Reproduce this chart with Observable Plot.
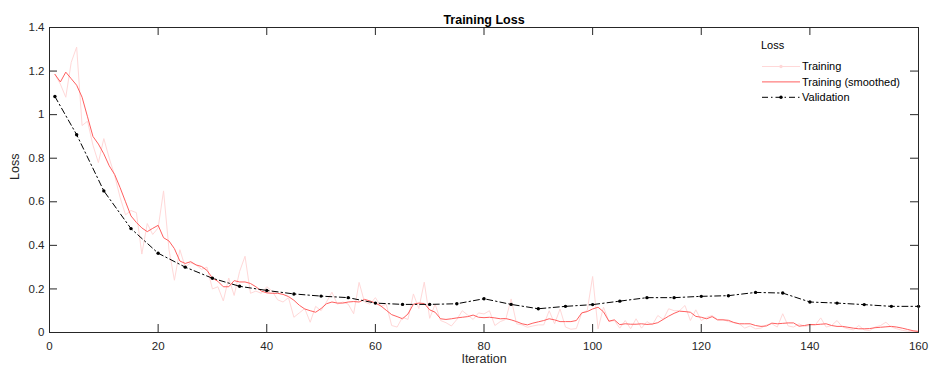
<!DOCTYPE html>
<html><head><meta charset="utf-8">
<script src="https://cdn.jsdelivr.net/npm/d3@7"></script>
<script src="https://cdn.jsdelivr.net/npm/@observablehq/plot@0.6"></script>
<style>
body{margin:0;background:#fff;font-family:"Liberation Sans",Arial,Helvetica,sans-serif}
#chart{position:relative;width:937px;height:369px}
</style>
</head><body><div id="chart"></div>
<script>
// ---- data ----
const trainingRaw = [
1.185,1.14,1.08,1.24,1.31,0.95,0.97,0.86,0.78,0.89,
0.80,0.72,0.62,0.54,0.56,0.55,0.36,0.50,0.45,0.48,
0.65,0.38,0.24,0.38,0.30,0.32,0.31,0.29,0.30,0.20,
0.21,0.145,0.25,0.17,0.28,0.35,0.18,0.19,0.18,0.21,
0.19,0.15,0.14,0.16,0.07,0.09,0.11,0.047,0.12,0.10,
0.14,0.185,0.13,0.14,0.13,0.086,0.23,0.14,0.13,0.16,
0.12,0.13,0.032,0.025,0.07,0.06,0.177,0.11,0.231,0.065,
0.13,0.055,0.045,0.03,0.06,0.10,0.08,0.06,0.09,0.085,
0.10,0.032,0.05,0.06,0.154,0.04,0.035,0.024,0.03,0.035,
0.035,0.10,0.04,0.108,0.025,0.015,0.018,0.09,0.10,0.257,
0.017,0.116,0.05,0.055,0.02,0.055,0.017,0.063,0.02,0.05,
0.035,0.078,0.06,0.109,0.10,0.10,0.124,0.055,0.104,0.055,
0.07,0.078,0.06,0.06,0.05,0.045,0.04,0.02,0.03,0.017,
0.02,0.035,0.04,0.025,0.086,0.03,0.025,0.04,0.028,0.032,
0.035,0.067,0.025,0.032,0.055,0.025,0.017,0.012,0.032,0.012,
0.009,0.025,0.032,0.047,0.025,0.017,0.01,0.006,0.005,0.005];

const trainingSmoothed = [
1.185,1.15,1.195,1.165,1.135,1.08,0.99,0.90,0.865,0.82,
0.765,0.725,0.665,0.60,0.535,0.505,0.48,0.463,0.478,0.492,
0.435,0.42,0.385,0.328,0.317,0.325,0.31,0.303,0.285,0.25,
0.235,0.21,0.21,0.238,0.232,0.232,0.225,0.21,0.19,0.182,
0.18,0.18,0.175,0.165,0.148,0.125,0.108,0.10,0.093,0.11,
0.132,0.14,0.135,0.135,0.14,0.142,0.14,0.152,0.145,0.135,
0.122,0.102,0.082,0.073,0.063,0.085,0.13,0.135,0.133,0.104,
0.093,0.063,0.06,0.063,0.067,0.07,0.073,0.08,0.07,0.068,
0.07,0.067,0.063,0.064,0.058,0.05,0.04,0.035,0.043,0.049,
0.055,0.063,0.058,0.05,0.05,0.05,0.055,0.09,0.096,0.108,
0.116,0.095,0.052,0.058,0.036,0.04,0.038,0.038,0.04,0.037,
0.039,0.045,0.06,0.075,0.088,0.098,0.096,0.093,0.074,0.07,
0.063,0.073,0.058,0.058,0.056,0.046,0.04,0.04,0.04,0.032,
0.028,0.03,0.043,0.04,0.042,0.044,0.044,0.029,0.032,0.037,
0.036,0.038,0.04,0.032,0.028,0.028,0.024,0.02,0.017,0.017,
0.018,0.022,0.024,0.026,0.028,0.025,0.02,0.014,0.008,0.005];

const validationIter = [1,5,10,15,20,25,30,35,40,45,50,55,60,65,70,75,80,85,90,95,100,105,110,115,120,125,130,135,140,145,150,155,160];
const validationLoss = [1.083,0.908,0.65,0.477,0.364,0.30,0.249,0.212,0.193,0.177,0.167,0.16,0.135,0.129,0.129,0.132,0.155,0.129,0.109,0.12,0.128,0.144,0.16,0.16,0.166,0.169,0.184,0.181,0.14,0.135,0.128,0.12,0.12];

const xTicks = [0,20,40,60,80,100,120,140,160];
const yTicks = [0,0.2,0.4,0.6,0.8,1,1.2,1.4];
const legendLabels = ["Training","Training (smoothed)","Validation"];

// ---- tables ----
const training = trainingRaw.map((v,i)=>({it:i+1, raw:v, smooth:trainingSmoothed[i]}));
const validation = validationIter.map((it,i)=>({it, loss:validationLoss[i]}));

const W=937,H=369,ML=49,MR=19,MT=27,MB=37;
const PW=W-ML-MR, PH=H-MT-MB, TK=8;
const axisColor="#262626";
const cRaw="#ffd8d8", cSmooth="#ff5f5f";

const chart = Plot.plot({
  width:W, height:H,
  marginLeft:ML, marginRight:MR, marginTop:MT, marginBottom:MB,
  style:{fontFamily:'"Liberation Sans",Arial,Helvetica,sans-serif', background:"#fff", overflow:"visible"},
  x:{domain:[0,160]},
  y:{domain:[0,1.4]},
  marks:[
    Plot.line(training,{x:"it",y:"raw",stroke:cRaw,strokeWidth:1}),
    Plot.line(training,{x:"it",y:"smooth",stroke:cSmooth,strokeWidth:1}),
    Plot.line(validation,{x:"it",y:"loss",stroke:"#000",strokeWidth:1,strokeDasharray:"6,3,1.5,3"}),
    Plot.dot(validation,{x:"it",y:"loss",r:1.7,fill:"#000",stroke:"none"}),
    // inward ticks
    Plot.tickY(yTicks,{y:d=>d,stroke:axisColor,insetRight:PW-TK}),
    Plot.tickY(yTicks,{y:d=>d,stroke:axisColor,insetLeft:PW-TK}),
    Plot.tickX(xTicks,{x:d=>d,stroke:axisColor,insetTop:PH-TK}),
    Plot.tickX(xTicks,{x:d=>d,stroke:axisColor,insetBottom:PH-TK}),
    Plot.frame({stroke:axisColor,strokeWidth:1}),
    Plot.axisX(xTicks,{tickSize:0,tickPadding:9,fontSize:11.5,label:null,tickFormat:d=>String(d),fill:axisColor}),
    Plot.axisY(yTicks,{tickSize:0,tickPadding:5,fontSize:11.5,label:null,tickFormat:d=>String(d),fill:axisColor}),
    Plot.text(["Iteration"],{frameAnchor:"bottom",dy:30,fontSize:12.5,fill:axisColor,text:d=>d}),
    Plot.text(["Loss"],{frameAnchor:"left",dx:-35,rotate:-90,fontSize:12.5,fill:axisColor,text:d=>d}),
    Plot.text(["Training Loss"],{frameAnchor:"top",dy:-12,fontSize:12.5,fontWeight:"bold",fill:"#000",text:d=>d})
  ]
});
document.getElementById("chart").appendChild(chart);

// ---- legend ----
const svg = d3.select(chart);
const lg = svg.append("g").attr("font-family",'"Liberation Sans",Arial,sans-serif')
  .attr("font-size",11).attr("fill","#000").attr("text-anchor","start");
lg.append("text").attr("x",761).attr("y",45).attr("dy","0.35em").attr("text-anchor","start").text("Loss");
const styles = [
  {stroke:cRaw,dash:null,dot:cRaw},
  {stroke:cSmooth,dash:null,dot:null},
  {stroke:"#000",dash:"6,3,1.5,3",dot:"#000"}
];
legendLabels.forEach((lab,i)=>{
  const y = 66.5 + i*15.4;
  const s = styles[i];
  lg.append("line").attr("x1",762).attr("x2",800).attr("y1",y).attr("y2",y)
    .attr("stroke",s.stroke).attr("stroke-width",1).attr("stroke-dasharray",s.dash);
  if(s.dot) lg.append("circle").attr("cx",781).attr("cy",y).attr("r",1.7).attr("fill",s.dot);
  lg.append("text").attr("x",802).attr("y",y).attr("dy","0.35em").attr("text-anchor","start").text(lab);
});
</script>
</body></html>
